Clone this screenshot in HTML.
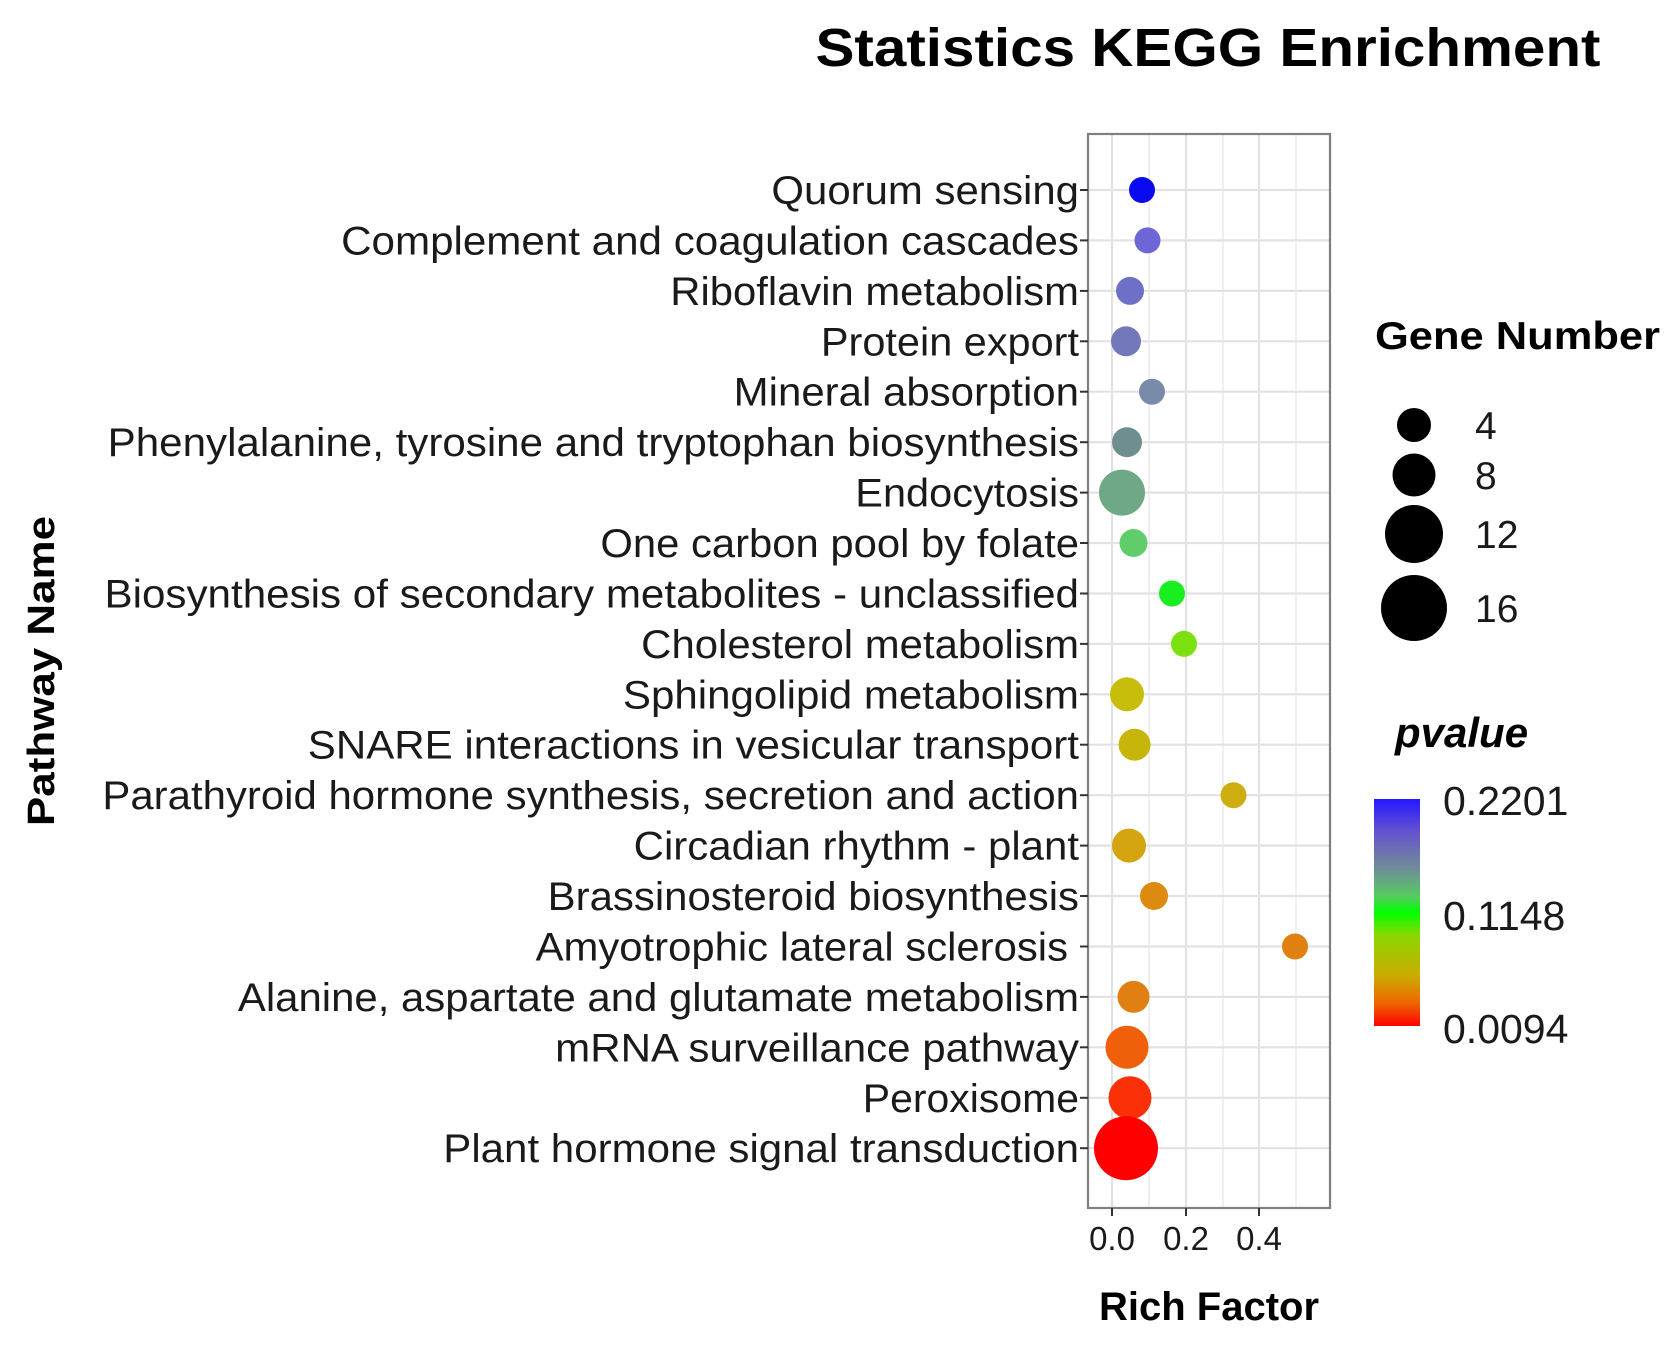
<!DOCTYPE html>
<html><head><meta charset="utf-8"><style>
html,body{margin:0;padding:0;background:#fff;}
svg{display:block;font-family:"Liberation Sans",sans-serif;}
</style></head><body>
<svg width="1678" height="1345" viewBox="0 0 1678 1345" xmlns="http://www.w3.org/2000/svg">
<defs>
<linearGradient id="cb" x1="0" y1="0" x2="0" y2="1">
<stop offset="0" stop-color="#2418ff"/>
<stop offset="0.15" stop-color="#6655cc"/>
<stop offset="0.3" stop-color="#708a9a"/>
<stop offset="0.43" stop-color="#55cc60"/>
<stop offset="0.5" stop-color="#00ff00"/>
<stop offset="0.6" stop-color="#8ad800"/>
<stop offset="0.78" stop-color="#ccaa00"/>
<stop offset="0.9" stop-color="#ee6600"/>
<stop offset="1" stop-color="#ff0000"/>
</linearGradient>
</defs>
<text x="1208" y="66" font-size="54" font-weight="bold" text-anchor="middle" textLength="785" lengthAdjust="spacingAndGlyphs">Statistics KEGG Enrichment</text>
<rect x="1088" y="134" width="242" height="1074" fill="#fff"/>
<g stroke="#ececec" stroke-width="1.5">
<line x1="1149" y1="134" x2="1149" y2="1208"/><line x1="1223" y1="134" x2="1223" y2="1208"/><line x1="1296" y1="134" x2="1296" y2="1208"/>
</g>
<g stroke="#e2e2e2" stroke-width="2.2">
<line x1="1112" y1="134" x2="1112" y2="1208"/><line x1="1186" y1="134" x2="1186" y2="1208"/><line x1="1259" y1="134" x2="1259" y2="1208"/>
</g>
<g stroke="#e2e2e2" stroke-width="2.2">
<line x1="1088" x2="1330" y1="190" y2="190"/><line x1="1088" x2="1330" y1="240.4" y2="240.4"/><line x1="1088" x2="1330" y1="290.9" y2="290.9"/><line x1="1088" x2="1330" y1="341.3" y2="341.3"/><line x1="1088" x2="1330" y1="391.7" y2="391.7"/><line x1="1088" x2="1330" y1="442.2" y2="442.2"/><line x1="1088" x2="1330" y1="492.6" y2="492.6"/><line x1="1088" x2="1330" y1="543" y2="543"/><line x1="1088" x2="1330" y1="593.5" y2="593.5"/><line x1="1088" x2="1330" y1="643.9" y2="643.9"/><line x1="1088" x2="1330" y1="694.3" y2="694.3"/><line x1="1088" x2="1330" y1="744.7" y2="744.7"/><line x1="1088" x2="1330" y1="795.2" y2="795.2"/><line x1="1088" x2="1330" y1="845.6" y2="845.6"/><line x1="1088" x2="1330" y1="896" y2="896"/><line x1="1088" x2="1330" y1="946.5" y2="946.5"/><line x1="1088" x2="1330" y1="996.9" y2="996.9"/><line x1="1088" x2="1330" y1="1047.3" y2="1047.3"/><line x1="1088" x2="1330" y1="1097.8" y2="1097.8"/><line x1="1088" x2="1330" y1="1148.2" y2="1148.2"/>
</g>
<circle cx="1142" cy="190" r="13" fill="#0a0af0"/>
<circle cx="1147.5" cy="240.4" r="13" fill="#6e66d6"/>
<circle cx="1130" cy="290.9" r="14" fill="#6e70c8"/>
<circle cx="1126" cy="341.3" r="15" fill="#7378bb"/>
<circle cx="1152" cy="391.7" r="13" fill="#7a8aaa"/>
<circle cx="1127" cy="442.2" r="15" fill="#6f8f8f"/>
<circle cx="1122" cy="492.6" r="23" fill="#6fa886"/>
<circle cx="1133.5" cy="543" r="14" fill="#5fce6a"/>
<circle cx="1172" cy="593.5" r="13" fill="#18ee20"/>
<circle cx="1184" cy="643.9" r="13" fill="#7de010"/>
<circle cx="1127" cy="694.3" r="17" fill="#c6be0a"/>
<circle cx="1134.6" cy="744.7" r="16" fill="#c8b50a"/>
<circle cx="1233.5" cy="795.2" r="13" fill="#cdad10"/>
<circle cx="1129" cy="845.6" r="17" fill="#d4a510"/>
<circle cx="1154" cy="896" r="14" fill="#dd8a10"/>
<circle cx="1295" cy="946.5" r="13" fill="#e08010"/>
<circle cx="1133.5" cy="996.9" r="16" fill="#e08012"/>
<circle cx="1127" cy="1047.3" r="21.5" fill="#f0600a"/>
<circle cx="1130" cy="1097.8" r="21.5" fill="#fa3008"/>
<circle cx="1126" cy="1148.2" r="32" fill="#ff0000"/>
<rect x="1088" y="134" width="242" height="1074" fill="none" stroke="#7f7f7f" stroke-width="2.2"/>
<g stroke="#333" stroke-width="2">
<line x1="1080" x2="1088" y1="190" y2="190"/><line x1="1080" x2="1088" y1="240.4" y2="240.4"/><line x1="1080" x2="1088" y1="290.9" y2="290.9"/><line x1="1080" x2="1088" y1="341.3" y2="341.3"/><line x1="1080" x2="1088" y1="391.7" y2="391.7"/><line x1="1080" x2="1088" y1="442.2" y2="442.2"/><line x1="1080" x2="1088" y1="492.6" y2="492.6"/><line x1="1080" x2="1088" y1="543" y2="543"/><line x1="1080" x2="1088" y1="593.5" y2="593.5"/><line x1="1080" x2="1088" y1="643.9" y2="643.9"/><line x1="1080" x2="1088" y1="694.3" y2="694.3"/><line x1="1080" x2="1088" y1="744.7" y2="744.7"/><line x1="1080" x2="1088" y1="795.2" y2="795.2"/><line x1="1080" x2="1088" y1="845.6" y2="845.6"/><line x1="1080" x2="1088" y1="896" y2="896"/><line x1="1080" x2="1088" y1="946.5" y2="946.5"/><line x1="1080" x2="1088" y1="996.9" y2="996.9"/><line x1="1080" x2="1088" y1="1047.3" y2="1047.3"/><line x1="1080" x2="1088" y1="1097.8" y2="1097.8"/><line x1="1080" x2="1088" y1="1148.2" y2="1148.2"/>
<line x1="1112" x2="1112" y1="1208" y2="1216"/><line x1="1186" x2="1186" y1="1208" y2="1216"/><line x1="1259" x2="1259" y1="1208" y2="1216"/>
</g>
<g font-size="40" fill="#1a1a1a" text-anchor="end" lengthAdjust="spacingAndGlyphs">
<text x="1079" y="204" textLength="307.6" lengthAdjust="spacingAndGlyphs">Quorum sensing</text>
<text x="1079" y="254.4" textLength="737.9" lengthAdjust="spacingAndGlyphs">Complement and coagulation cascades</text>
<text x="1079" y="304.9" textLength="408.7" lengthAdjust="spacingAndGlyphs">Riboflavin metabolism</text>
<text x="1079" y="355.3" textLength="258.1" lengthAdjust="spacingAndGlyphs">Protein export</text>
<text x="1079" y="405.7" textLength="345.3" lengthAdjust="spacingAndGlyphs">Mineral absorption</text>
<text x="1079" y="456.2" textLength="971.3" lengthAdjust="spacingAndGlyphs">Phenylalanine, tyrosine and tryptophan biosynthesis</text>
<text x="1079" y="506.6" textLength="223.7" lengthAdjust="spacingAndGlyphs">Endocytosis</text>
<text x="1079" y="557" textLength="478.6" lengthAdjust="spacingAndGlyphs">One carbon pool by folate</text>
<text x="1079" y="607.5" textLength="974.5" lengthAdjust="spacingAndGlyphs">Biosynthesis of secondary metabolites - unclassified</text>
<text x="1079" y="657.9" textLength="437.8" lengthAdjust="spacingAndGlyphs">Cholesterol metabolism</text>
<text x="1079" y="708.3" textLength="456.1" lengthAdjust="spacingAndGlyphs">Sphingolipid metabolism</text>
<text x="1079" y="758.7" textLength="771.2" lengthAdjust="spacingAndGlyphs">SNARE interactions in vesicular transport</text>
<text x="1079" y="809.2" textLength="976.6" lengthAdjust="spacingAndGlyphs">Parathyroid hormone synthesis, secretion and action</text>
<text x="1079" y="859.6" textLength="445.3" lengthAdjust="spacingAndGlyphs">Circadian rhythm - plant</text>
<text x="1079" y="910" textLength="531.3" lengthAdjust="spacingAndGlyphs">Brassinosteroid biosynthesis</text>
<text x="1068" y="960.5" textLength="532.4" lengthAdjust="spacingAndGlyphs">Amyotrophic lateral sclerosis</text>
<text x="1079" y="1010.9" textLength="841.1" lengthAdjust="spacingAndGlyphs">Alanine, aspartate and glutamate metabolism</text>
<text x="1079" y="1061.3" textLength="523.8" lengthAdjust="spacingAndGlyphs">mRNA surveillance pathway</text>
<text x="1079" y="1111.8" textLength="216.2" lengthAdjust="spacingAndGlyphs">Peroxisome</text>
<text x="1079" y="1162.2" textLength="635.7" lengthAdjust="spacingAndGlyphs">Plant hormone signal transduction</text>
</g>
<g font-size="33" fill="#1a1a1a" text-anchor="middle">
<text x="1112" y="1250">0.0</text><text x="1186" y="1250">0.2</text><text x="1259" y="1250">0.4</text>
</g>
<text x="1209" y="1320" font-size="40" font-weight="bold" text-anchor="middle">Rich Factor</text>
<text transform="translate(54,671) rotate(-90)" font-size="38" font-weight="bold" text-anchor="middle" textLength="310" lengthAdjust="spacingAndGlyphs">Pathway Name</text>
<text x="1375" y="349" font-size="39" font-weight="bold" textLength="285" lengthAdjust="spacingAndGlyphs">Gene Number</text>
<circle cx="1414" cy="425" r="17" fill="#000"/>
<circle cx="1414" cy="475" r="21.5" fill="#000"/>
<circle cx="1414" cy="534" r="29" fill="#000"/>
<circle cx="1414" cy="608" r="33" fill="#000"/>
<g font-size="39" fill="#1a1a1a">
<text x="1475" y="439">4</text><text x="1475" y="489">8</text><text x="1475" y="548">12</text><text x="1475" y="622">16</text>
</g>
<text x="1395" y="747" font-size="42" font-weight="bold" font-style="italic">pvalue</text>
<rect x="1374" y="799" width="46" height="227" fill="url(#cb)"/>
<g font-size="41" fill="#1a1a1a">
<text x="1443" y="815">0.2201</text><text x="1443" y="930">0.1148</text><text x="1443" y="1043">0.0094</text>
</g>
</svg>
</body></html>
